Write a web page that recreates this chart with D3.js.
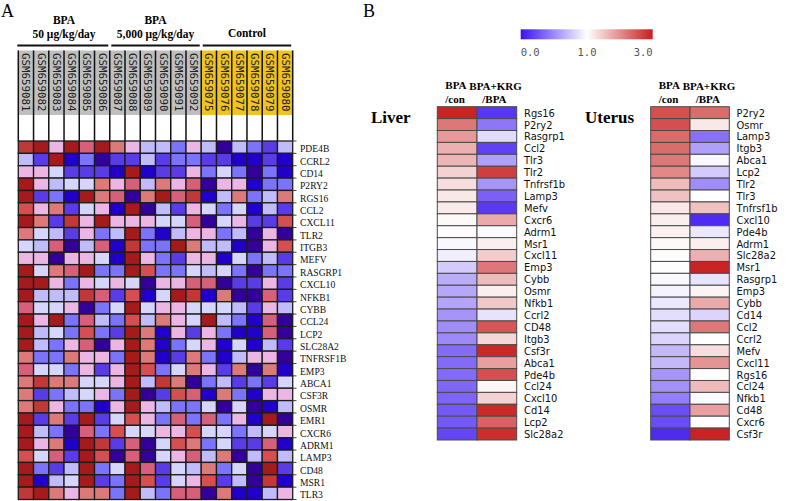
<!DOCTYPE html>
<html><head><meta charset="utf-8">
<script src="https://cdn.jsdelivr.net/npm/d3@7"></script>
<style>body{margin:0;background:#fff}svg{display:block}</style>
</head><body>
<svg id="chart" width="787" height="501"></svg>
<script>
// ---------- Panel A data ----------
const samples = ["GSM659081","GSM659082","GSM659083","GSM659084","GSM659085","GSM659086",
  "GSM659087","GSM659088","GSM659089","GSM659090","GSM659091","GSM659092",
  "GSM659075","GSM659076","GSM659077","GSM659078","GSM659079","GSM659080"];
const sampleGroup = ["g50","g50","g50","g50","g50","g50","g5000","g5000","g5000","g5000","g5000","g5000",
  "ctrl","ctrl","ctrl","ctrl","ctrl","ctrl"];
const groupNames = ["g50","g5000","ctrl"];
const groupLine1 = ["BPA","BPA","Control"];
const groupLine2 = ["50 μg/kg/day","5,000 μg/kg/day",""];
const genesA = ["PDE4B","CCRL2","CD14","P2RY2","RGS16","CCL2","CXCL11","TLR2","ITGB3","MEFV","RASGRP1",
  "CXCL10","NFKB1","CYBB","CCL24","LCP2","SLC28A2","TNFRSF1B","EMP3","ABCA1","CSF3R","OSMR","EMR1",
  "CXCR6","ADRM1","LAMP3","CD48","MSR1","TLR3"];
// expression level (0 = lowest / dark blue ... 11 = highest / dark red)
const levelsA = [
 [10,11,6,11,8,11,7,6,4,4,3,6,4,0,4,3,2,4],
 [4,2,11,1,3,0,2,2,4,2,3,3,2,2,1,1,2,1],
 [6,6,5,2,2,2,1,11,1,2,2,6,3,5,3,0,3,1],
 [11,6,4,5,5,7,6,8,4,7,6,8,0,6,6,1,3,3],
 [11,2,3,1,11,7,8,0,7,11,8,10,1,4,7,3,4,7],
 [9,6,7,2,5,6,1,11,0,4,2,6,5,3,5,1,4,2],
 [11,7,2,10,6,11,6,6,6,5,5,8,0,5,6,2,2,9],
 [7,5,4,2,6,3,4,11,3,1,4,6,6,3,4,0,6,0],
 [5,4,8,0,4,8,1,10,3,3,11,7,4,4,1,0,6,9],
 [6,6,0,6,6,5,1,11,6,3,2,6,6,1,5,3,4,2],
 [11,5,7,8,11,3,3,11,9,3,3,5,4,5,3,0,3,3],
 [11,11,6,3,6,5,6,5,0,6,6,8,8,0,2,2,6,2],
 [11,4,4,4,10,8,2,9,1,5,11,10,1,7,0,0,8,2],
 [8,5,5,6,0,3,5,11,5,6,6,5,5,5,4,2,6,4],
 [11,6,11,3,8,4,3,9,4,7,6,5,11,4,3,1,8,0],
 [11,4,5,3,9,3,2,11,7,1,6,2,6,3,1,1,8,0],
 [11,4,3,6,8,0,6,11,7,1,3,5,6,1,5,1,4,2],
 [7,3,3,7,6,6,3,11,7,1,2,7,3,1,4,6,6,0],
 [8,5,5,3,6,2,6,11,9,3,5,7,6,2,7,0,7,1],
 [7,10,7,7,5,5,6,11,4,10,7,0,3,4,2,3,2,5],
 [7,2,3,4,5,6,3,11,0,2,9,8,1,7,3,1,6,6],
 [7,10,6,3,3,1,6,11,6,4,3,3,5,0,5,0,1,4],
 [11,2,7,2,11,2,5,9,6,3,8,3,8,3,6,1,11,0],
 [11,4,3,0,8,3,9,5,5,6,6,9,5,5,3,4,5,6],
 [11,6,7,1,11,10,2,8,0,5,9,7,3,5,2,2,8,1],
 [9,5,8,2,11,9,0,8,0,5,6,8,4,7,0,4,9,4],
 [11,3,2,4,11,3,5,11,8,2,5,4,7,3,5,0,11,2],
 [11,1,4,5,11,2,3,11,9,2,5,6,9,2,4,0,10,1],
 [10,11,7,6,7,7,3,11,4,3,8,8,0,7,1,1,4,6]
];
const paletteA = ["#330099","#2200cc","#5a3ce6","#7b74fa","#c0bcfc","#d6d6fc",
  "#ecb6e4","#dc7a7a","#d6607a","#d44f50","#c03838","#a51a1a"];

// ---------- Panel B data ----------
const colsB = ["BPA/con","BPA+KRG/BPA"];
const liverGenes = ["Rgs16","P2ry2","Rasgrp1","Ccl2","Tlr3","Tlr2","Tnfrsf1b","Lamp3","Mefv","Cxcr6",
  "Adrm1","Msr1","Cxcl11","Emp3","Cybb","Osmr","Nfkb1","Ccrl2","CD48","Itgb3","Csf3r","Abca1","Pde4b",
  "Ccl24","Cxcl10","Cd14","Lcp2","Slc28a2"];
const liverCon = [2.95,2.2,1.9,1.7,1.65,1.4,1.3,1.2,1.18,1.05,1.03,0.97,0.93,0.78,0.65,0.63,0.62,0.55,
  0.52,0.5,0.38,0.37,0.37,0.36,0.35,0.3,0.3,0.22];
const liverKrg = [0.15,0.42,0.85,0.2,0.6,2.7,0.55,0.33,0.16,1.75,0.98,1.15,1.45,2.2,1.6,1.15,1.5,0.88,
  2.5,1.35,2.9,1.85,2.55,1.08,1.4,2.9,2.4,2.85];
const uterusGenes = ["P2ry2","Osmr","Lamp3","Itgb3","Abca1","Lcp2","Tlr2","Tlr3","Tnfrsf1b","Cxcl10",
  "Pde4b","Adrm1","Slc28a2","Msr1","Rasgrp1","Emp3","Cybb","Cd14","Ccl2","Ccrl2","Mefv","Cxcl11","Rgs16",
  "Ccl24","Nfkb1","Cd48","Cxcr6","Csf3r"];
const uterusCon = [2.55,2.55,2.3,2.3,2.2,2.05,1.6,1.55,1.2,1.15,1.12,1.05,1.02,1.01,0.97,0.95,0.9,0.86,
  0.86,0.82,0.7,0.7,0.55,0.53,0.45,0.25,0.25,0.1];
const uterusKrg = [2.3,1.2,0.4,0.6,0.97,0.78,0.52,1.0,1.55,0.1,0.9,1.15,1.7,2.95,0.88,1.1,1.75,0.82,
  2.2,1.0,1.3,1.95,1.03,1.6,0.98,1.85,1.0,2.95];
const legendTicks = [0,1,3];
const legendLabels = ["0.0","1.0","3.0"];

// ---------- drawing ----------
const svg = d3.select("#chart");
const serif = "'Liberation Serif','Times New Roman',serif";
const narrow = "'Liberation Sans Narrow','DejaVu Sans Condensed','Liberation Sans',sans-serif";
const mono = "'DejaVu Sans Mono',monospace";

// panel letters
svg.append("text").attr("x",1).attr("y",17).attr("font-family",serif).attr("font-size",18).text("A");
svg.append("text").attr("x",363).attr("y",17).attr("font-family",serif).attr("font-size",18).text("B");

// ---- Panel A ----
const xA = d3.scaleBand().domain(samples).range([18.3, 292.7]);
const yA = d3.scaleBand().domain(genesA).range([141, 499.5]);
const colorA = d3.scaleOrdinal().domain(d3.range(paletteA.length)).range(paletteA);
const gA = svg.append("g");

// group headers
groupNames.forEach((g,i)=>{
  const cols = samples.filter((s,j)=>sampleGroup[j]===g);
  const x0 = xA(cols[0]), x1 = xA(cols[cols.length-1]) + xA.bandwidth();
  const cx = (x0+x1)/2;
  const t = gA.append("text").attr("x",cx).attr("text-anchor","middle")
    .attr("font-family",serif).attr("font-weight","bold").attr("font-size",11.5);
  if (groupLine2[i]) {
    t.attr("y",24).text(groupLine1[i]);
    gA.append("text").attr("x",cx).attr("y",38).attr("text-anchor","middle")
      .attr("font-family",serif).attr("font-weight","bold").attr("font-size",11.5).text(groupLine2[i]);
  } else {
    t.attr("y",37).text(groupLine1[i]);
  }
  gA.append("line").attr("x1",x0+(i===0?-1:1.5)).attr("x2",x1-1.5).attr("y1",45.5).attr("y2",45.5)
    .attr("stroke","#111").attr("stroke-width",2);
});

// sample header boxes
gA.selectAll("rect.hdr").data(samples).join("rect")
  .attr("x",d=>xA(d)).attr("y",50.5).attr("width",xA.bandwidth()).attr("height",64.5)
  .attr("fill",(d,i)=>sampleGroup[i]==="ctrl"?"#f1c31f":"#bfbfbf");
gA.selectAll("text.hdr").data(samples).join("text")
  .attr("transform",d=>`translate(${xA(d)+xA.bandwidth()/2},53) rotate(90)`)
  .attr("dominant-baseline","central").attr("font-family",mono).attr("font-size",10.8)
  .attr("fill","#222").text(d=>d);
// vertical separators in header
gA.selectAll("line.vs").data(d3.range(samples.length+1)).join("line")
  .attr("x1",i=>18.3+i*xA.bandwidth()).attr("x2",i=>18.3+i*xA.bandwidth())
  .attr("y1",50.5).attr("y2",141).attr("stroke","#111").attr("stroke-width",1.5);

// cells
const cellsA = [];
levelsA.forEach((row,r)=>row.forEach((v,c)=>cellsA.push({g:genesA[r],s:samples[c],v})));
gA.selectAll("rect.cell").data(cellsA).join("rect")
  .attr("x",d=>xA(d.s)).attr("y",d=>yA(d.g)).attr("width",xA.bandwidth()).attr("height",yA.bandwidth())
  .attr("fill",d=>colorA(d.v)).attr("stroke","#1c1c1c").attr("stroke-width",1.3);
// right ticks
gA.selectAll("line.rt").data(d3.range(genesA.length+1)).join("line")
  .attr("x1",292.7).attr("x2",296.5)
  .attr("y1",i=>141+i*yA.bandwidth()).attr("y2",i=>141+i*yA.bandwidth())
  .attr("stroke","#444").attr("stroke-width",1);
// gene labels
gA.selectAll("text.gl").data(genesA).join("text")
  .attr("x",300).attr("y",d=>yA(d)+yA.bandwidth()/2+1.5).attr("dominant-baseline","central")
  .attr("font-family",serif).attr("font-size",9.6).attr("fill","#111").text(d=>d);

// ---- Panel B ----
const colorB = d3.scaleLinear().domain([0,1,3]).range(["#3a12f2","#ffffff","#c81d1d"]);

// legend
const lx = d3.scaleLinear().domain([0,1,3]).range([520.7,587,652.7]);
const defs = svg.append("defs");
const grad = defs.append("linearGradient").attr("id","lg").attr("x1","0%").attr("x2","100%");
d3.range(0,3.001,0.1).forEach(v=>{
  grad.append("stop").attr("offset",((lx(v)-520.7)/(652.7-520.7)*100)+"%").attr("stop-color",colorB(v));
});
svg.append("rect").attr("x",520.7).attr("y",29.3).attr("width",132).attr("height",10).attr("fill","url(#lg)");
svg.selectAll("text.lt").data(legendTicks).join("text")
  .attr("x",d=>lx(d)).attr("y",56)
  .attr("text-anchor",(d,i)=>i===0?"start":(i===legendTicks.length-1?"end":"middle"))
  .attr("font-family",mono).attr("font-size",10.5).attr("fill","#555")
  .text((d,i)=>legendLabels[i]);

function drawPanelB(x0, x1, genes, con, krg, title, titleX, labelX) {
  const g = svg.append("g");
  const x = d3.scaleBand().domain(colsB).range([x0,x1]);
  const y = d3.scaleBand().domain(genes).range([106.7,440]);
  const cells = [];
  genes.forEach((gn,i)=>{ cells.push({g:gn,c:colsB[0],v:con[i]}); cells.push({g:gn,c:colsB[1],v:krg[i]}); });
  g.selectAll("rect").data(cells).join("rect")
    .attr("x",d=>x(d.c)).attr("y",d=>y(d.g)).attr("width",x.bandwidth()).attr("height",y.bandwidth())
    .attr("fill",d=>colorB(d.v)).attr("stroke","#4a4a4a").attr("stroke-width",1);
  g.selectAll("text.gn").data(genes).join("text")
    .attr("x",labelX).attr("y",d=>y(d)+y.bandwidth()/2+0.5).attr("dominant-baseline","central")
    .attr("font-family",narrow).attr("font-size",11).attr("fill","#111").text(d=>d);
  const hdr = (txt,xx,yy)=>g.append("text").attr("x",xx).attr("y",yy).attr("font-family",serif)
    .attr("font-weight","bold").attr("font-size",11).text(txt);
  hdr("BPA", x0+8, 89); hdr("BPA+KRG", x0+32, 90);
  hdr("/con", x0+8, 103); hdr("/BPA", x0+45, 103);
  g.append("text").attr("x",titleX).attr("y",123).attr("font-family",serif).attr("font-weight","bold")
    .attr("font-size",17).text(title);
}
drawPanelB(437.3, 516.7, liverGenes, liverCon, liverKrg, "Liver", 371, 524);
drawPanelB(650.7, 729.3, uterusGenes, uterusCon, uterusKrg, "Uterus", 585, 736.5);
</script>
</body></html>
